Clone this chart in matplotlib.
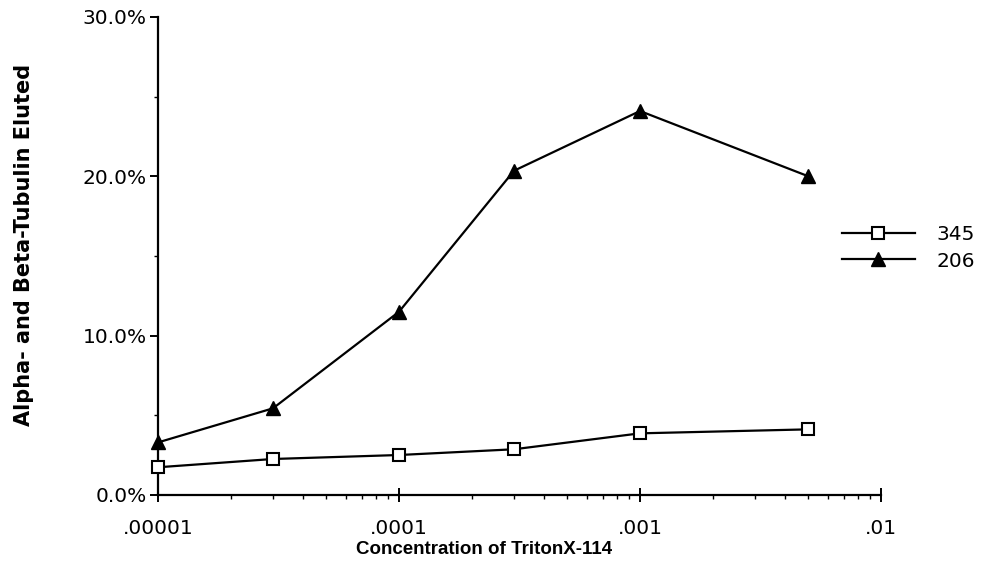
import matplotlib
matplotlib.use("Agg")
import matplotlib.pyplot as plt
from matplotlib.ticker import FixedLocator, FuncFormatter, LogLocator, NullFormatter

plt.rcParams['font.family'] = ['DejaVu Sans']

# Data
concentrations = [1e-5, 3e-5, 1e-4, 3e-4, 1e-3, 5e-3]
series_345 = [1.74, 2.26, 2.51, 2.87, 3.87, 4.12]
series_206 = [3.3, 5.44, 11.5, 20.35, 24.1, 20.0]
series_names = ["345", "206"]
x_tick_values = [1e-5, 1e-4, 1e-3, 1e-2]
x_tick_labels = [".00001", ".0001", ".001", ".01"]
y_tick_values = [0, 10, 20, 30]
y_tick_labels = ["0.0%", "10.0%", "20.0%", "30.0%"]
x_label = "Concentration of TritonX-114"
y_label = "Alpha- and Beta-Tubulin Eluted"

W, H = 983, 575
fig = plt.figure(figsize=(W / 100, H / 100), dpi=100)
left, right, bottom, top = 158, 881, 495, 17
ax = fig.add_axes([left / W, 1 - bottom / H, (right - left) / W, (bottom - top) / H])

ax.plot(concentrations, series_345, color='black', lw=1.6, marker='s', ms=8,
        mfc='white', mec='black', mew=1.5, label=series_names[0], clip_on=False, zorder=3)
ax.plot(concentrations, series_206, color='black', lw=1.6, marker='^', ms=9.5,
        mfc='black', mec='black', label=series_names[1], clip_on=False, zorder=3)

ax.set_xscale('log')
ax.set_xlim(1e-5, 1e-2)
ax.set_ylim(0, 30)
ax.xaxis.set_major_locator(FixedLocator(x_tick_values))
ax.xaxis.set_major_formatter(FuncFormatter(
    lambda v, p: x_tick_labels[x_tick_values.index(min(x_tick_values, key=lambda t: abs(t - v)))]))
ax.xaxis.set_minor_locator(LogLocator(base=10, subs=range(2, 10)))
ax.xaxis.set_minor_formatter(NullFormatter())
ax.yaxis.set_major_locator(FixedLocator(y_tick_values))
ax.set_yticklabels(y_tick_labels)
ax.yaxis.set_minor_locator(FixedLocator([5, 15, 25]))

for s in ['top', 'right']:
    ax.spines[s].set_visible(False)
for s in ['left', 'bottom']:
    ax.spines[s].set_linewidth(1.6)

ax.tick_params(axis='both', which='major', direction='out', length=6, width=1.4, labelsize=14.5, pad=2)
ax.tick_params(axis='x', which='major', direction='inout', length=10, pad=12)
ax.tick_params(axis='both', which='minor', direction='out', length=3, width=1)

fig.text(24 / W, 1 - 245 / H, y_label, rotation=90, ha='center', va='center',
         fontsize=15, fontweight='bold')
fig.text(484 / W, 1 - 549 / H, x_label, ha='center', va='center',
         fontsize=13.5, fontweight='bold', family=['Liberation Sans', 'DejaVu Sans'])

leg = ax.legend(loc='center left', bbox_to_anchor=(842 / W, 1 - 248 / H),
                bbox_transform=fig.transFigure, frameon=False, fontsize=14.5,
                handlelength=3.6, handletextpad=1.1, labelspacing=0.35, borderaxespad=0,
                borderpad=0)

fig.savefig('out.png', dpi=100)
